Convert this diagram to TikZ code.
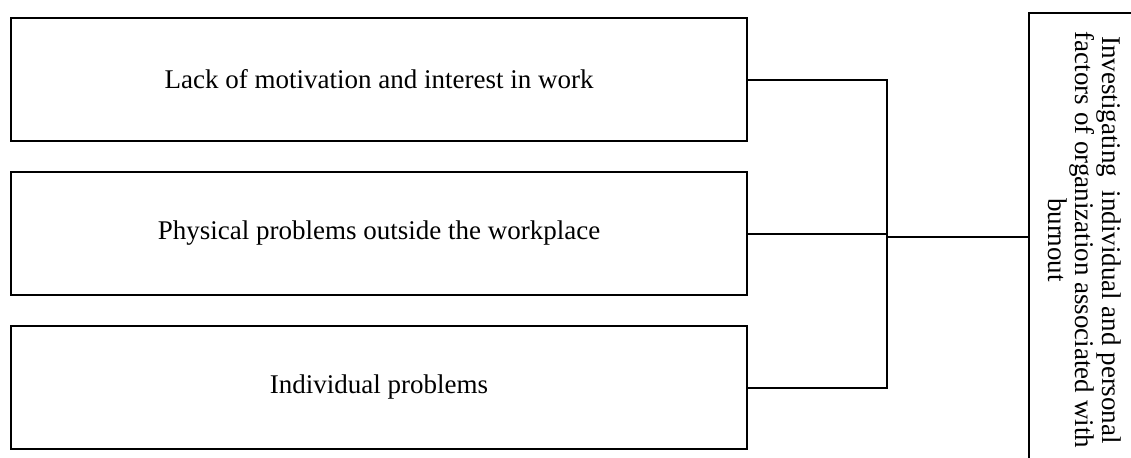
\documentclass[tikz,border=0pt]{standalone}
\usepackage{fontspec}
\setmainfont{Liberation Serif}
\usetikzlibrary{positioning}
\begin{document}
\begin{tikzpicture}[x=1pt,y=1pt,font=\fontsize{13.5}{13.9}\selectfont]
 \tikzset{factor node/.style={rectangle, draw, line width=1pt,
 		text centered, minimum width=368pt, minimum height=61.5pt}, }
 \tikzset{goal node/.style={rectangle, draw, line width=1pt,
 		minimum width=70pt, minimum height=240pt}, }
 \tikzset{goal text/.style={rotate=-90, align=center,
 		font=\fontsize{13.5}{13.5}\selectfont}, }
 \tikzset{linea/.style={line width=1pt},}
 \clip (0,0) rectangle (565.5,228.5);
 \node[factor node] (1) at (189.5,188.75) {Lack of motivation and interest in work};
 \node[factor node] (2) [below =14.5pt of 1] {Physical problems outside the workplace};
 \node[factor node] (3) [below =14.5pt of 2] {Individual problems};
 \node[goal node, anchor=north west] (4) at (514,222.5) {};
 \node[goal text] (5) at (542.5,108.5) {Investigating \ individual and personal\\
 	factors of organization associated with\\ burnout};
 \coordinate (j) at (443.5,110.2);
 \foreach \x in {1,3}
 \draw[linea] (\x.east) -| (j);
 \draw[linea] (2.east) -- (2.east -| j);
 \draw[linea] (j) -- (j -| 4.west);
 % 
\end{tikzpicture}
\end{document}
